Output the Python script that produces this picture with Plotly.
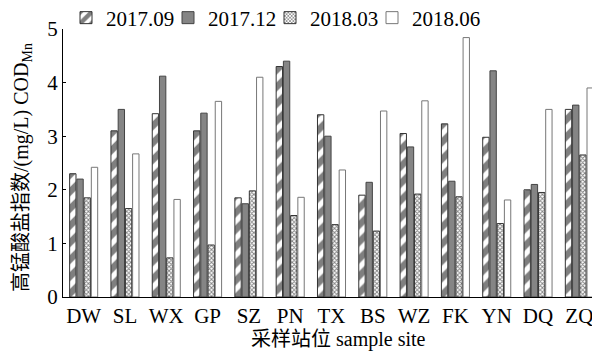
import plotly.graph_objects as go

sites = ["DW", "SL", "WX", "GP", "SZ", "PN", "TX", "BS", "WZ", "FK", "YN", "DQ", "ZQ"]
s201709 = [2.30, 3.10, 3.42, 3.10, 1.85, 4.30, 3.40, 1.90, 3.05, 3.23, 2.98, 2.00, 3.50]
s201712 = [2.20, 3.50, 4.12, 3.43, 1.74, 4.40, 3.00, 2.14, 2.80, 2.16, 4.22, 2.10, 3.58]
s201803 = [1.85, 1.65, 0.73, 0.97, 1.98, 1.52, 1.35, 1.23, 1.92, 1.87, 1.37, 1.95, 2.65]
s201806 = [2.42, 2.67, 1.82, 3.65, 4.10, 1.86, 2.37, 3.47, 3.66, 4.84, 1.81, 3.50, 3.90]

FONT = "Liberation Serif, Noto Sans CJK SC"

fig = go.Figure()
fig.add_trace(go.Bar(
    x=sites, y=s201709, name="2017.09",
    marker=dict(color="white", line=dict(color="#333333", width=1),
                pattern=dict(shape="/", fgcolor="black", bgcolor="white", size=12, solidity=0.55)),
))
fig.add_trace(go.Bar(
    x=sites, y=s201712, name="2017.12",
    marker=dict(color="#858585", line=dict(color="#444444", width=1)),
))
fig.add_trace(go.Bar(
    x=sites, y=s201803, name="2018.03",
    marker=dict(color="white", line=dict(color="#333333", width=1),
                pattern=dict(shape="x", fgcolor="black", bgcolor="white", size=3, solidity=0.5)),
))
fig.add_trace(go.Bar(
    x=sites, y=s201806, name="2018.06", legendwidth=80,
    marker=dict(color="white", line=dict(color="#777777", width=1)),
))

# page body has an 8px margin: figure is sized to fit the 600x356 window
OFF = 8
W, H = 600 - OFF, 356 - OFF
L, T = 63 - OFF, 29 - OFF
R, B = 0, H - (297 - OFF)
PW, PH = W - L - R, H - T - B


def px_x(sx):
    return (sx - OFF - L) / PW


def px_y(sy):
    return (H - B - (sy - OFF)) / PH


fig.update_layout(
    width=W, height=H,
    margin=dict(l=L, r=R, t=T, b=B, autoexpand=False),
    paper_bgcolor="white", plot_bgcolor="white",
    barmode="group", bargap=0.3, bargroupgap=0.12,
    font=dict(family=FONT, size=20, color="black"),
    showlegend=True,
    legend=dict(orientation="h", x=px_x(66), xanchor="left", y=px_y(18), yanchor="middle",
                entrywidth=57, entrywidthmode="pixels",
                font=dict(family=FONT, size=21, color="black"),
                bgcolor="rgba(0,0,0,0)", itemwidth=30, tracegroupgap=0),
    xaxis=dict(
        automargin=False,
        showline=True, linecolor="black", linewidth=1, ticks="",
        tickfont=dict(family=FONT, size=21, color="black"),
    ),
    yaxis=dict(
        automargin=False,
        range=[0, 5], dtick=1, showline=True, linecolor="black", linewidth=1,
        ticks="inside", ticklen=3, tickcolor="black", showgrid=False, zeroline=False,
        tickfont=dict(family=FONT, size=21, color="black"),
    ),
    annotations=[
        dict(text="采样站位 sample site", xref="paper", yref="paper",
             x=px_x(338), y=px_y(339), xanchor="center", yanchor="middle",
             showarrow=False, font=dict(family=FONT, size=20, color="black")),
        dict(text="高锰酸盐指数/(mg/L) COD<sub>Mn</sub>", xref="paper", yref="paper",
             x=px_x(22), y=px_y(168), xanchor="center", yanchor="middle",
             textangle=-90, showarrow=False, font=dict(family=FONT, size=20, color="black")),
    ],
)

fig.write_html("out.html")
